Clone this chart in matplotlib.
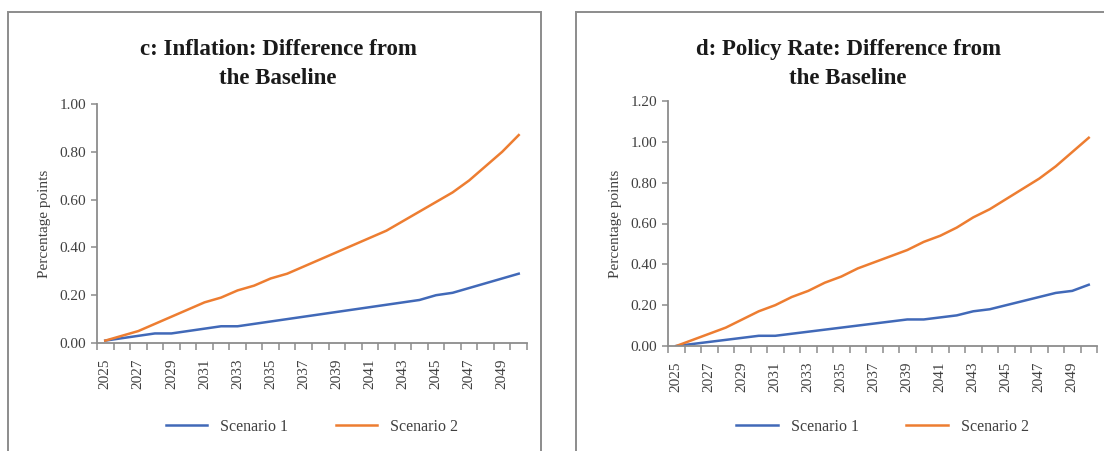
import numpy as np
import matplotlib
matplotlib.use("Agg")
import matplotlib.pyplot as plt
from matplotlib.patches import Rectangle

plt.rcParams['font.family'] = ['Liberation Serif', 'DejaVu Serif']

years = np.arange(2025, 2051)
label_years = years[::2]

# panel c: inflation, difference from baseline (percentage points)
infl_s1 = [0.01, 0.02, 0.03, 0.04, 0.04, 0.05, 0.06, 0.07, 0.07, 0.08, 0.09, 0.10, 0.11,
           0.12, 0.13, 0.14, 0.15, 0.16, 0.17, 0.18, 0.20, 0.21, 0.23, 0.25, 0.27, 0.29]
infl_s2 = [0.01, 0.03, 0.05, 0.08, 0.11, 0.14, 0.17, 0.19, 0.22, 0.24, 0.27, 0.29, 0.32,
           0.35, 0.38, 0.41, 0.44, 0.47, 0.51, 0.55, 0.59, 0.63, 0.68, 0.74, 0.80, 0.87]

# panel d: policy rate, difference from baseline
rate_s1 = [0.00, 0.01, 0.02, 0.03, 0.04, 0.05, 0.05, 0.06, 0.07, 0.08, 0.09, 0.10, 0.11,
           0.12, 0.13, 0.13, 0.14, 0.15, 0.17, 0.18, 0.20, 0.22, 0.24, 0.26, 0.27, 0.30]
rate_s2 = [0.00, 0.03, 0.06, 0.09, 0.13, 0.17, 0.20, 0.24, 0.27, 0.31, 0.34, 0.38, 0.41,
           0.44, 0.47, 0.51, 0.54, 0.58, 0.63, 0.67, 0.72, 0.77, 0.82, 0.88, 0.95, 1.02]

series_names = ['Scenario 1', 'Scenario 2']
colors = ['#4169b8', '#ed7d31']

W, H = 1104, 451
fig = plt.figure(figsize=(W / 100, H / 100), dpi=100)

# panel frames
fig.patches.append(Rectangle((8 / W, -0.02), 533 / W, (H - 12) / H + 0.02,
                             transform=fig.transFigure, fill=False,
                             edgecolor='#8c8c8c', linewidth=1.4))
fig.patches.append(Rectangle((576 / W, -0.02), 540 / W, (H - 12) / H + 0.02,
                             transform=fig.transFigure, fill=False,
                             edgecolor='#8c8c8c', linewidth=1.4))

panels = [
    dict(rect=[97 / W, (H - 343) / H, 430 / W, 239 / H],
         data=(infl_s1, infl_s2), ymax=1.0,
         title='c: Inflation: Difference from\nthe Baseline', tx=278 / W,
         leg_y=(343 - 427) / 239),
    dict(rect=[668 / W, (H - 346) / H, 429 / W, 245 / H],
         data=(rate_s1, rate_s2), ymax=1.2,
         title='d: Policy Rate: Difference from\nthe Baseline', tx=848 / W,
         leg_y=(346 - 427) / 245),
]

for p in panels:
    ax = fig.add_axes(p['rect'])
    for vals, name, c in zip(p['data'], series_names, colors):
        ax.plot(years, vals, color=c, linewidth=1.8, label=name)

    ax.set_xlim(2024.5, 2050.5)
    ax.set_ylim(0, p['ymax'])
    yt = np.arange(0, p['ymax'] + 0.01, 0.2)
    ax.set_yticks(yt)
    ax.set_yticklabels([f'{v:.2f}' for v in yt])
    ax.set_xticks(label_years)
    ax.set_xticklabels([str(y) for y in label_years], rotation=90)
    ax.set_xticks(np.arange(2024.5, 2051, 1), minor=True)
    ax.tick_params(axis='x', which='major', length=0, pad=11)
    ax.tick_params(axis='x', which='minor', length=5, width=1.1, color='#8c8c8c')
    ax.tick_params(axis='y', length=4, width=1.1, color='#8c8c8c', pad=4)
    ax.tick_params(labelsize=11, labelcolor='#404040')

    for s in ['top', 'right']:
        ax.spines[s].set_visible(False)
    for s in ['left', 'bottom']:
        ax.spines[s].set_color('#8c8c8c')
        ax.spines[s].set_linewidth(1.3)

    ax.set_ylabel('Percentage points', fontsize=11, color='#404040', labelpad=6)
    fig.text(p['tx'], (H - 64) / H, p['title'], ha='center', va='center',
             fontsize=16.5, fontweight='bold', color='#1a1a1a', linespacing=1.45)

    ax.legend(loc='center', bbox_to_anchor=(0.5, p['leg_y']), ncol=2,
              frameon=False, fontsize=11.5, handlelength=2.6, columnspacing=3.0,
              handletextpad=0.8, labelcolor='#404040')

fig.savefig('out.png', dpi=100)
